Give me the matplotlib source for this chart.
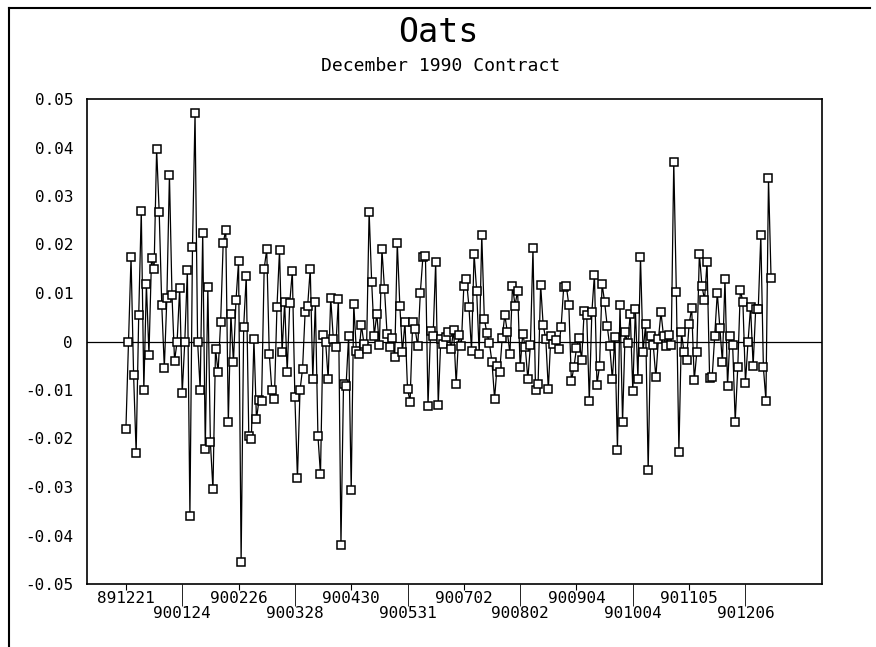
import numpy as np
import matplotlib.pyplot as plt
from matplotlib.lines import Line2D

# daily returns, December 1990 oats contract
returns = [
    -0.018, 0.0, 0.0174, -0.0069, -0.023, 0.0054, 0.027, -0.010, 0.0118, -0.0027,
    0.0172, 0.015, 0.0397, 0.0267, 0.0076, -0.0054, 0.009, 0.0344, 0.0095, -0.004,
    0.0, 0.011, -0.0106, 0.0, 0.0148, -0.036, 0.0195, 0.0471, 0.0, -0.0099,
    0.0224, -0.0221, 0.0113, -0.0208, -0.0305, -0.0015, -0.0063, 0.004, 0.0203, 0.023,
    -0.0166,
    0.0057, -0.0043, 0.0085, 0.0165, -0.0455, 0.003, 0.0135, -0.0194, -0.020, 0.0005,
    -0.016, -0.012, -0.0122, 0.015, 0.019, -0.0025, -0.0101, -0.0118, 0.0071, 0.0188,
    -0.0022, 0.0081, -0.0063, 0.008, 0.0145, -0.0115, -0.0282, -0.0101, -0.0056, 0.006,
    0.0074, 0.015, -0.0078, 0.0081, -0.0194, -0.0274, 0.0014, 0.0, -0.0077, 0.009,
    0.0006, -0.0011,
    0.0088, -0.042, -0.0087, -0.0091, 0.0012, -0.0307, 0.0078, -0.0019, -0.0025, 0.0033,
    -0.0005, -0.0015, 0.0268, 0.0122, 0.0012, 0.0057, -0.0008, 0.019, 0.0109, 0.0016,
    -0.0012, 0.0008, -0.0032, 0.0203, 0.0074, -0.0022, 0.004, -0.0098, -0.0124, 0.004,
    0.0025, -0.001, 0.01, 0.0174, 0.0177, -0.0132, 0.0021, 0.0012, 0.0164, -0.013,
    0.0005, -0.0006, 0.001,
    0.0019, -0.0015, 0.0023, -0.0087, 0.0014, -0.001, 0.0115, 0.0129, 0.0071, -0.0019,
    0.0181, 0.0105, -0.0025, 0.022, 0.0047, 0.0017, -0.0004, -0.0043, -0.0118, -0.005,
    -0.0063, 0.0008, 0.0055, 0.0019, -0.0025, 0.0115, 0.0074, 0.0105, -0.0053, 0.0016,
    -0.0012, -0.0078, -0.0008, 0.0192, -0.0101, -0.0087, 0.0117, 0.0033, 0.0006, -0.0098,
    0.0012, -0.0006, 0.0004, -0.0015,
    0.003, 0.0112, 0.0115, 0.0076, -0.0082, -0.0053, -0.0014, 0.0008, -0.0039, 0.0062,
    0.0055, -0.0123, 0.006, 0.0138, -0.0089, -0.0051, 0.0119, 0.0081, 0.0032, -0.001,
    -0.0078, 0.0009, -0.0223, 0.0076, -0.0166, 0.0019, -0.0004, 0.0057, -0.0102, 0.0067,
    -0.0077, 0.0174, -0.0022, 0.0036, -0.0265, 0.0012, -0.0008, -0.0074, 0.0005, 0.006,
    0.0011, -0.0009, 0.0014,
    -0.0007, 0.0371, 0.0103, -0.0227, 0.0019, -0.0022, -0.0039, 0.0036, 0.0069, -0.008,
    -0.0022, 0.0181, 0.0115, 0.0086, 0.0164, -0.0076, -0.0074, 0.0012, 0.01, 0.0027,
    -0.0043, 0.0129, -0.0091, 0.0012, -0.0007, -0.0165, -0.0053, 0.0107, 0.0081, -0.0085,
    -0.0001, 0.0071, -0.005, 0.0067, 0.0067, 0.0219, -0.0053, -0.0122, 0.0337, 0.0131,
]

# date labels, one every 22 trading days, alternating upper / lower row
dates_upper = ['891221', '900226', '900430', '900702', '900904', '901105']
dates_lower = ['900124', '900328', '900531', '900802', '901004', '901206']
yticks = [0.05, 0.04, 0.03, 0.02, 0.01, 0, -0.01, -0.02, -0.03, -0.04, -0.05]

mono = 'DejaVu Sans Mono'
x = np.arange(len(returns))

fig = plt.figure(figsize=(8.76, 6.47), dpi=100)
ax = fig.add_axes([87 / 876, 1 - 584 / 647, 735 / 876, 485 / 647])

ax.axhline(0, color='black', lw=0.9, zorder=1)
ax.plot(x, returns, '-s', color='black', lw=0.9, mfc='white', mec='black',
        ms=6, mew=1.1, zorder=2)

ax.set_xlim(-15.2, 271.9)
ax.set_ylim(-0.05, 0.05)

step = 22
ax.set_xticks([2 * step * i for i in range(len(dates_upper))])
ax.set_xticklabels(dates_upper, fontfamily=mono, fontsize=11.5)
ax.set_xticks([2 * step * i + step for i in range(len(dates_lower))], minor=True)
ax.set_xticklabels(dates_lower, minor=True, fontfamily=mono, fontsize=11.5)
ax.tick_params(axis='x', which='major', length=4, pad=1, direction='out')
ax.tick_params(axis='x', which='minor', length=16, pad=0, direction='out')

ax.set_yticks(yticks)
ax.set_yticklabels(['0' if v == 0 else f'{v:.2f}' for v in yticks],
                   fontfamily=mono, fontsize=11.5)
ax.tick_params(axis='y', length=0, pad=10)

for s in ax.spines.values():
    s.set_linewidth(1.2)

fig.text(438 / 876, 1 - 32 / 647, 'Oats', ha='center', va='center',
         fontfamily=mono, fontsize=24)
fig.text(441 / 876, 1 - 66 / 647, 'December 1990 Contract', ha='center',
         va='center', fontfamily=mono, fontsize=13)

# page frame (left and top edges only, as in the scan)
fig.add_artist(Line2D([9 / 876, 9 / 876], [0, 1 - 8 / 647], color='black', lw=1.5))
fig.add_artist(Line2D([9 / 876, 870 / 876], [1 - 8 / 647, 1 - 8 / 647], color='black', lw=1.5))

fig.savefig('out.png', dpi=100)
